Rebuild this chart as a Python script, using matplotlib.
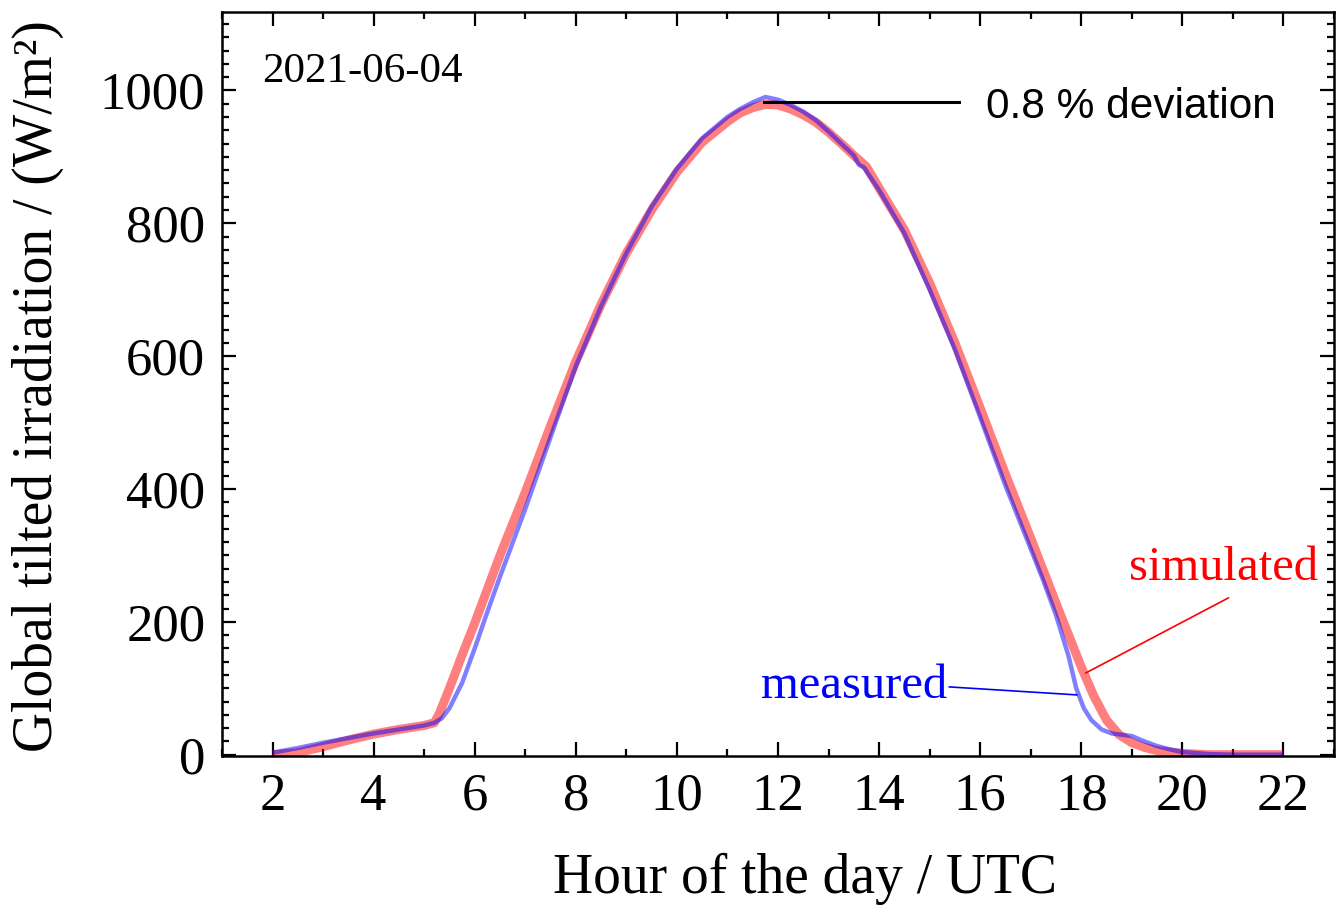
import numpy as np
import matplotlib
matplotlib.use("Agg")
import matplotlib.pyplot as plt
from matplotlib.ticker import MultipleLocator

# Daten ------------------------------------------------------------------------
hour_meas = [2.0, 2.5, 3.0, 3.5, 4.0, 4.5, 5.0, 5.2, 5.35, 5.5, 5.75, 6.0,
             6.25, 6.5, 7.0, 7.5, 8.0, 8.5, 9.0, 9.5, 10.0, 10.5, 11.0,
             11.25, 11.5, 11.75, 12.0, 12.25, 12.5, 12.75, 13.0, 13.25,
             13.5, 13.6, 13.7, 14.0, 14.5, 15.0, 15.5, 16.0, 16.5, 17.0,
             17.25, 17.5, 17.75, 17.9, 18.05, 18.2, 18.4, 18.6, 18.8, 19.0,
             19.25, 19.5, 19.75, 20.0, 20.5, 21.0, 22.0]
irr_meas = [3, 10, 18, 25, 32, 38, 44, 48, 55, 70, 108, 160,
            215, 268, 370, 478, 585, 675, 755, 825, 882, 928, 960,
            972, 982, 990, 986, 978, 968, 955, 938, 920,
            902, 888, 884, 850, 785, 700, 610, 508, 405, 310,
            262, 210, 148, 100, 70, 52, 38, 32, 30, 28,
            20, 13, 8, 4, 1, 0, 0]

hour_sim = [2.0, 2.5, 3.0, 3.5, 4.0, 4.5, 5.0, 5.2, 5.3, 5.5, 5.75, 6.0,
            6.5, 7.0, 7.5, 8.0, 8.5, 9.0, 9.5, 10.0, 10.5, 11.0, 11.25,
            11.5, 11.75, 12.0, 12.25, 12.5, 12.75, 13.0, 13.25, 13.5,
            13.65, 13.75, 14.0, 14.5, 15.0, 15.5, 16.0, 16.5, 17.0, 17.5,
            17.75, 18.0, 18.25, 18.5, 18.75, 19.0, 19.25, 19.5, 20.0,
            20.5, 22.0]
irr_sim = [0, 3, 12, 22, 31, 38, 44, 48, 62, 100, 150, 198,
           300, 395, 495, 592, 678, 755, 820, 877, 922, 953, 966,
           974, 979, 978, 972, 963, 952, 937, 920, 902,
           892, 885, 853, 790, 710, 620, 522, 422, 326, 228,
           180, 132, 88, 52, 30, 18, 11, 6, 2,
           0, 0]

xticks = [2, 4, 6, 8, 10, 12, 14, 16, 18, 20, 22]
yticks = [0, 200, 400, 600, 800, 1000]

# Plot -------------------------------------------------------------------------
plt.rcParams['font.family'] = 'Liberation Serif'

fig = plt.figure(figsize=(13.36, 9.05), dpi=100)
ax = fig.add_axes([222/1336, 1-756/905, (1334-222)/1336, (756-12)/905])

ax.plot(hour_sim, irr_sim, color='red', alpha=0.5, lw=6.5,
        solid_capstyle='butt', solid_joinstyle='round')
ax.plot(hour_meas, irr_meas, color='blue', alpha=0.5, lw=3.2,
        solid_capstyle='butt', solid_joinstyle='round')

ax.set_xlim(1.0, 23.0)
ax.set_ylim(-2, 1118)
ax.set_xticks(xticks)
ax.set_yticks(yticks)
ax.xaxis.set_minor_locator(MultipleLocator(1))
ax.yaxis.set_minor_locator(MultipleLocator(20))
ax.tick_params(which='both', direction='in', top=True, right=True, width=1.6)
ax.tick_params(which='major', length=10, labelsize=38, pad=12)
ax.tick_params(which='minor', length=5)
for s in ax.spines.values():
    s.set_linewidth(1.8)

fig.text(38/1336, 1-386/905, 'Global tilted irradiation / (W/m²)', fontsize=40,
         rotation=90, ha='center', va='center')
fig.text(805/1336, 1-893/905, 'Hour of the day / UTC', fontsize=40,
         ha='center', va='baseline')

# Beschriftungen
ax.text(0.036, 0.906, '2021-06-04', transform=ax.transAxes, fontsize=31,
        va='baseline')
ax.plot([11.73, 15.58], [983, 983], color='black', lw=2.2)
ax.text(16.12, 959, '0.8 % deviation', fontsize=30.5, family='Liberation Sans',
        va='baseline')
ax.plot([18.09, 20.91], [123, 236], color='red', lw=1.2)
ax.text(18.94, 263, 'simulated', fontsize=35, color='red', va='baseline')
ax.plot([15.39, 17.91], [102, 90], color='blue', lw=1.2)
ax.text(11.67, 86, 'measured', fontsize=35, color='blue', va='baseline')

plt.savefig('out.png', dpi=100)
